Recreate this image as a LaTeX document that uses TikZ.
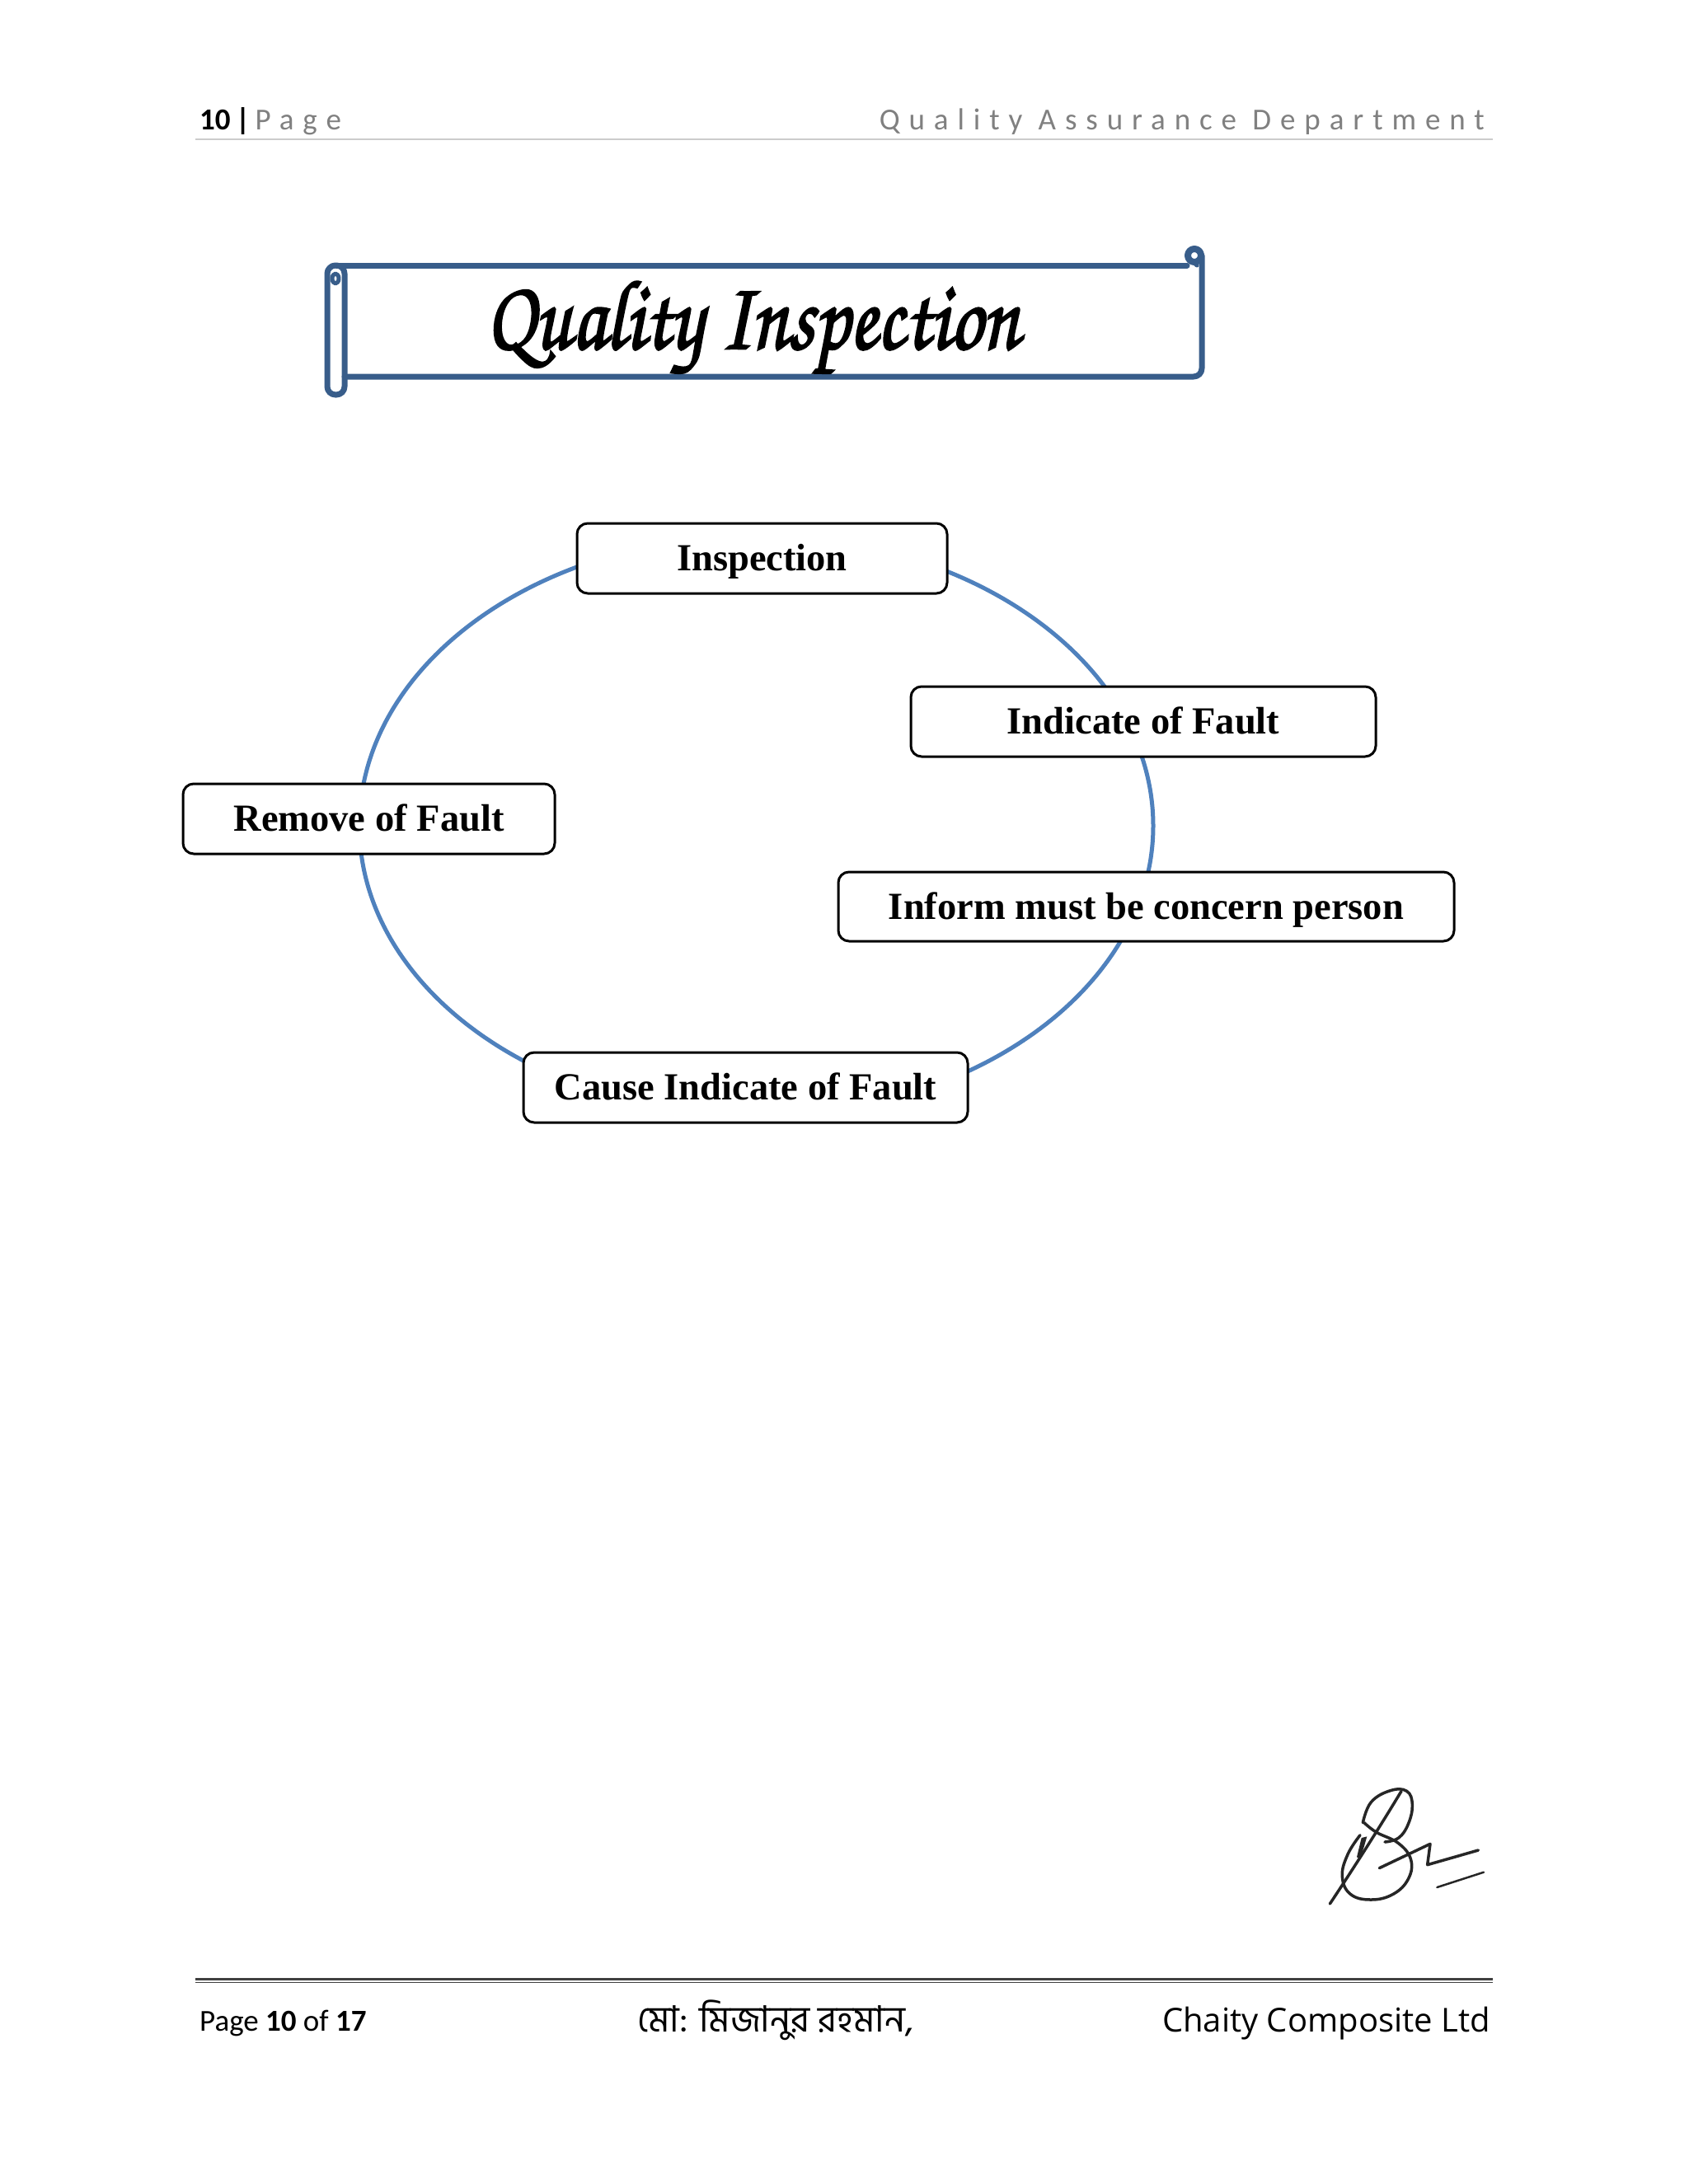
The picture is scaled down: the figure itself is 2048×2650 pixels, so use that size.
\documentclass[tikz,border=0pt]{standalone}
\usepackage[T1]{fontenc}
\usepackage{fontspec}
\setmainfont{Liberation Serif}
\newfontfamily\hdrfont{Carlito}
\newfontfamily\hdrspaced[LetterSpace=29.5]{Carlito}
\newfontfamily\bnfont[Script=Bengali]{Hind Siliguri}
\newfontfamily\compfont{Open Sans}
\newcommand\qititlefont{\fontencoding{T1}\fontfamily{pzc}\fontseries{mb}\fontshape{it}\fontsize{100}{110}\selectfont}
\newcommand\qiheavy[1]{\special{pdf:literal q 2 Tr 2.2 w}#1\special{pdf:literal Q}}
\definecolor{loopblue}{RGB}{79,129,189}
\definecolor{scrollblue}{RGB}{56,93,138}
\definecolor{hdrgray}{RGB}{128,128,128}
\begin{document}
\begin{tikzpicture}[x=1pt,y=-1pt,
  boxstyle/.style={draw=black, line width=3pt, rounded corners=13pt, fill=white,
    font=\fontsize{46.5}{50}\selectfont\bfseries, inner sep=0pt, align=center,
    text height=30pt, text depth=0pt},
  loopline/.style={draw=loopblue, line width=5pt},
  scroll/.style={draw=scrollblue, line width=7pt, line join=round, line cap=round},
  sig/.style={draw=black!85, line width=3.5pt, line cap=round, line join=round},
  hdr/.style={inner sep=0pt, font=\hdrfont\fontsize{37}{40}\selectfont}]

\fill[white] (0,0) rectangle (2048,2650);
\useasboundingbox (0,0) rectangle (2048,2650);

% header
\node[hdr, anchor=base west] (pagenum) at (242,157)
  {\textbf{10}\,\textbf{|}\,{\color{hdrgray}\hdrspaced Page}};
\node[hdr, anchor=base east, text=hdrgray] (dept) at (1801,157)
  {\hdrspaced Quality Assurance Department};
\draw[draw=black!20, line width=2.5pt] (237,169) -- (1811,169);

% title scroll
\draw[scroll] (408,322) -- (1440,322);
\draw[scroll] (1458,310) -- (1458,447)
  arc[start angle=0, end angle=90, radius=10] -- (418,457);
\draw[scroll, line width=8pt] (1449,310) circle[radius=8];
\draw[scroll, line width=5pt] (1446,316) -- (1452,322);
\draw[scroll, rounded corners=10pt] (397,322) rectangle (418,479);
\draw[scroll, line width=5pt] (407,338) ellipse[x radius=4, y radius=6];
\node[inner sep=0pt, anchor=base, font=\qititlefont] (title) at (913,423)
  {\qiheavy{\scalebox{0.98}[1.2]{Quality Inspection}}};

% cycle
\draw[loopline] (917.5,1002) ellipse[x radius=481.5, y radius=352];

\node[boxstyle, minimum width=449pt, minimum height=85pt] (insp) at (924.5,677.5) {Inspection};
\node[boxstyle, minimum width=564pt, minimum height=85pt] (indic) at (1387,875.5) {Indicate of Fault};
\node[boxstyle, minimum width=747pt, minimum height=84pt] (inform) at (1390.5,1100) {Inform must be concern person};
\node[boxstyle, minimum width=539pt, minimum height=85pt] (cause) at (904.5,1319.5) {Cause Indicate of Fault};
\node[boxstyle, minimum width=451pt, minimum height=85pt] (remove) at (447.5,993.5) {Remove of Fault};

% signature
\begin{scope}[shift={(1540,2120)}, scale=0.33333]
  \draw[sig] (220,570) .. controls (320,420) and (420,260) .. (480,160);
  \draw[sig] plot[smooth, tension=0.7] coordinates {(340,275) (370,200) (440,158) (500,160) (520,210) (505,280) (470,330) (420,345)};
  \draw[sig] plot[smooth, tension=0.7] coordinates {(345,275) (390,310) (470,350) (515,410) (505,480) (450,535) (370,555) (295,535) (265,470) (285,390) (330,320)};
  \draw[sig] (400,440) -- (585,352) -- (575,428) -- (760,375);
  \draw[sig, line width=2.5pt] (610,510) -- (780,455);
  \fill[black!85] (318,400) -- (335,330) -- (355,325) -- (345,360) -- (330,405) -- cycle;
\end{scope}

% footer
\draw[draw=black!75, line width=2.5pt] (237,2401.5) -- (1811,2401.5);
\draw[draw=black!75, line width=1.5pt] (237,2405.5) -- (1811,2405.5);
\node[hdr, anchor=base west] (pagefoot) at (242,2464) {Page \textbf{10} of \textbf{17}};
\node[inner sep=0pt, anchor=base, font=\bnfont\fontsize{44}{48}\selectfont] (author) at (941,2465) {মো: মিজানুর রহমান,};
\node[inner sep=0pt, anchor=base east, font=\compfont\fontsize{40}{44}\selectfont] (company) at (1808,2465) {Chaity Composite Ltd};
\end{tikzpicture}
\end{document}
